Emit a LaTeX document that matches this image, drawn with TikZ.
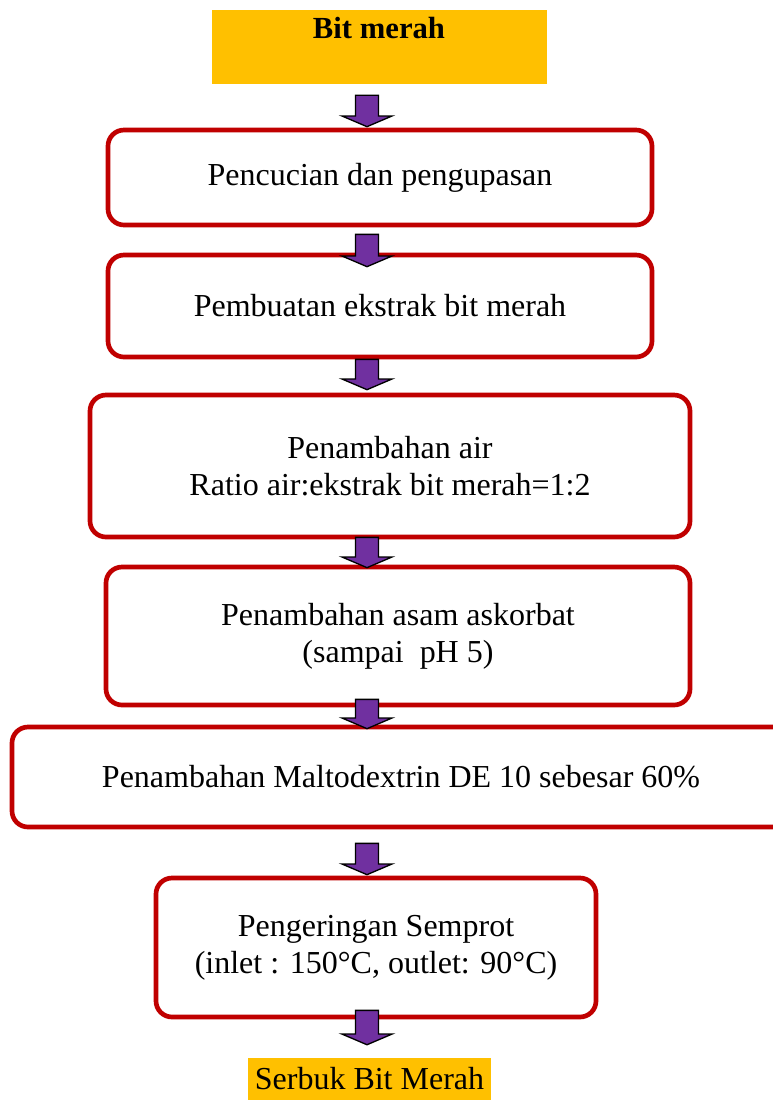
\documentclass[tikz,border=0pt]{standalone}
\usepackage{fontspec}
\setmainfont{Liberation Serif}
\usetikzlibrary{calc}
\definecolor{beetorange}{HTML}{FFC000}
\definecolor{stepred}{HTML}{C00000}
\definecolor{arrowpurple}{HTML}{7030A0}

% block arrow from #1 (top of shaft) down to #2 (tip)
\newcommand{\flowarrow}[2]{%
  \filldraw[arrowpurple, draw=black, line width=1pt, line join=miter]
    let \p1=#1, \p2=#2 in
    (\x1-8.6pt,\y1) -- (\x1+8.6pt,\y1) -- (\x1+8.6pt,\y2+8pt)
    -- (\x1+18.75pt,\y2+8pt) -- (\x1,\y2) -- (\x1-18.75pt,\y2+8pt)
    -- (\x1-8.6pt,\y2+8pt) -- cycle;
}

\begin{document}
\begin{tikzpicture}[
  x=0.75pt,
  y=-0.75pt,
  every node/.style={font=\fontsize{24}{27.75}\selectfont, align=center},
  stepbox/.style={draw=stepred, line width=3.5pt, rounded corners=12pt,
    fill=white, inner sep=0pt},
  endbox/.style={fill=beetorange, inner sep=0pt}
]
  \useasboundingbox (0,0) rectangle (773,1100);
  \coordinate (ax) at (367,0);

  % start and end
  \node[endbox, minimum width=251.25pt, minimum height=55.5pt] (src) at (379.5,47) {};
  \node[font=\fontsize{23}{27}\selectfont\bfseries, anchor=base] (srclabel) at (379,38) {Bit merah};
  \node[endbox, minimum width=182.25pt, minimum height=31.5pt] (out) at (369.5,1079) {Serbuk Bit Merah};

  % process steps
  \node[stepbox, minimum width=408pt, minimum height=71.25pt] (s1) at (380,177.5)
    {Pencucian dan pengupasan};
  \node[stepbox, minimum width=408pt, minimum height=76.5pt] (s2) at (380,306)
    {Pembuatan ekstrak bit merah};
  \node[stepbox, minimum width=450pt, minimum height=106.5pt] (s3) at (390,466)
    {Penambahan air\\Ratio air:ekstrak bit merah=1:2};
  \node[stepbox, minimum width=438pt, minimum height=103.5pt] (s4) at (398,636)
    {Penambahan asam askorbat\\(sampai\ \ pH 5)};
  \node[stepbox, minimum width=583.5pt, minimum height=75pt] (s5) at (401,777)
    {Penambahan Maltodextrin DE 10 sebesar 60\%};
  \node[stepbox, minimum width=330pt, minimum height=104.25pt] (s6) at (376,947.5)
    {Pengeringan Semprot\\(inlet\ : 150°C, outlet: 90°C)};

  % arrows
  \flowarrow{($(src.south -| ax)+(0,11)$)}{($(s1.north -| ax)+(0,-1)$)}
  \flowarrow{($(s1.south -| ax)+(0,7)$)}{($(s2.north -| ax)+(0,14)$)}
  \flowarrow{($(s2.south -| ax)+(0,0)$)}{($(s3.north -| ax)+(0,-3)$)}
  \flowarrow{($(s3.south -| ax)+(0,-2)$)}{($(s4.north -| ax)+(0,3)$)}
  \flowarrow{($(s4.south -| ax)+(0,-8)$)}{($(s5.north -| ax)+(0,4)$)}
  \flowarrow{($(s5.south -| ax)+(0,14)$)}{($(s6.north -| ax)+(0,-1)$)}
  \flowarrow{($(s6.south -| ax)+(0,-9)$)}{($(out.north -| ax)+(0,-13)$)}
\end{tikzpicture}
\end{document}
